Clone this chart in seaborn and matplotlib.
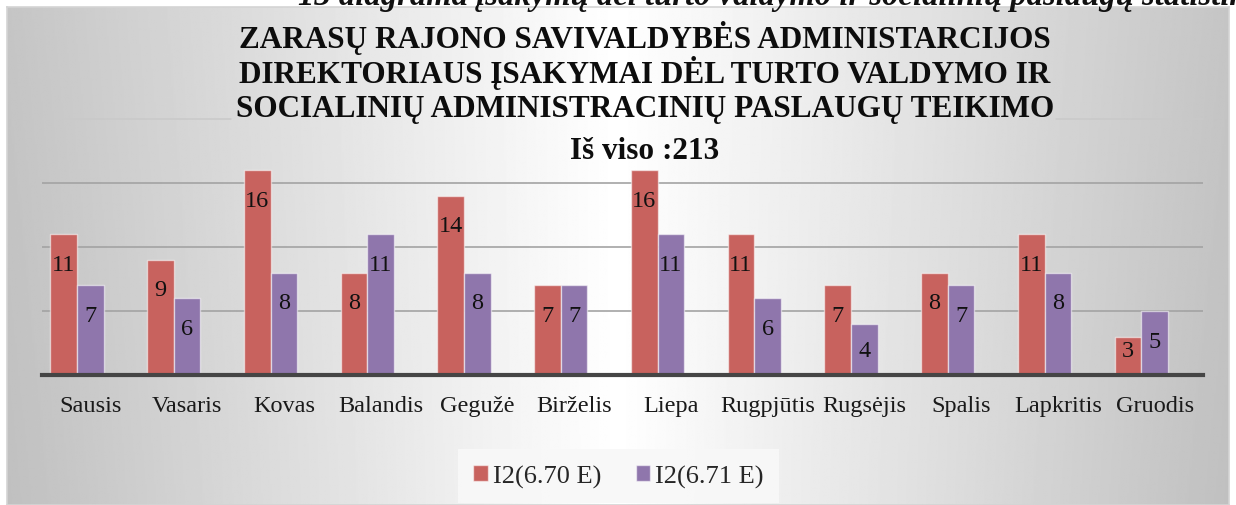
import numpy as np
import pandas as pd
import matplotlib
matplotlib.use("Agg")
import matplotlib.pyplot as plt
import seaborn as sns
from matplotlib.patches import Patch

# ---------------- data ----------------
months = ["Sausis", "Vasaris", "Kovas", "Balandis", "Gegužė", "Birželis",
          "Liepa", "Rugpjūtis", "Rugsėjis", "Spalis", "Lapkritis", "Gruodis"]
series_names = ["I2(6.70 E)", "I2(6.71 E)"]
values_e670 = [11, 9, 16, 8, 14, 7, 16, 11, 7, 8, 11, 3]
values_e671 = [7, 6, 8, 11, 8, 7, 11, 6, 4, 7, 8, 5]
title_lines = ["ZARASŲ RAJONO SAVIVALDYBĖS ADMINISTARCIJOS",
               "DIREKTORIAUS ĮSAKYMAI DĖL TURTO VALDYMO IR",
               "SOCIALINIŲ ADMINISTRACINIŲ PASLAUGŲ TEIKIMO"]
total_label = "Iš viso :213"
caption = "13 diagrama įsakymų dėl turto valdymo ir socialinių paslaugų statistika"

RED = "#c8625e"
PURPLE = "#8f76ac"
SERIF = "Liberation Serif"

W, H = 1236, 506
sns.set_theme(style="white")
plt.rcParams["font.family"] = [SERIF, "DejaVu Serif"]

fig = plt.figure(figsize=(W / 100, H / 100), dpi=100)
fig.patch.set_facecolor("white")

# ---------------- background panel with gradient ----------------
bg = fig.add_axes([7 / W, 0, (1229 - 7) / W, (H - 8) / H], zorder=-5)
xs = np.linspace(0, 1, 800)
g = 1 - (58 / 255) * np.abs(xs - 0.5) * 2
ys = np.linspace(0, 1, 60)[:, None]
img = g[None, :] - 0.02 * (ys) * (np.abs(xs - 0.5) * 2)[None, :]
bg.imshow(img, cmap="gray", vmin=0, vmax=1, aspect="auto", extent=[0, 1, 0, 1])
bg.set_xticks([])
bg.set_yticks([])
for s in bg.spines.values():
    s.set_color("#d4d4d4")
    s.set_linewidth(1.2)

# ---------------- main axes ----------------
ax = fig.add_axes([42 / W, (H - 376) / H, (1203 - 42) / W, 256 / H])
ax.patch.set_alpha(0)

df = pd.DataFrame({
    "month": months * 3,
    "series": [series_names[0]] * 12 + [series_names[1]] * 12 + ["_blank"] * 12,
    "value": values_e670 + values_e671 + [0] * 12,
})
sns.barplot(data=df, x="month", y="value", hue="series",
            hue_order=series_names + ["_blank"],
            palette=[RED, PURPLE, "#ffffff"], saturation=1,
            width=0.827, dodge=True, errorbar=None, legend=False, ax=ax,
            edgecolor=(1, 1, 1, 0.55), linewidth=1.0)
for bar in ax.containers[2]:
    bar.set_visible(False)

ax.set_ylim(0, 20)
ax.set_xlim(-0.5, 11.5)
ax.set_yticks([5, 10, 15])
ax.set_yticklabels([])
ax.yaxis.grid(True, color="#a3a3a3", linewidth=1.2)
ax.set_axisbelow(True)
ax.set_xlabel("")
ax.set_ylabel("")
for side in ["left", "right", "top"]:
    ax.spines[side].set_visible(False)
ax.spines["bottom"].set_color("#454545")
ax.spines["bottom"].set_linewidth(3)
ax.spines["bottom"].set_zorder(5)
ax.tick_params(axis="x", length=0, pad=14.5, labelsize=17.5, labelcolor="#1a1a1a")
ax.tick_params(axis="y", length=0)

# value labels
for cont, vals in zip(ax.containers[:2], [values_e670, values_e671]):
    for bar, v in zip(cont, vals):
        ax.text(bar.get_x() + bar.get_width() / 2, max(v - 2.35, 1.95), str(v),
                ha="center", va="center", fontsize=17.5, color="#111111", zorder=6)

# ---------------- titles ----------------
tx = 645 / W
title_objs = []
for line, yb in zip(title_lines, [48, 82.5, 117]):
    title_objs.append(fig.text(tx, 1 - yb / H, line, ha="center", va="baseline",
                               fontsize=22.5, fontweight="bold", color="#0d0d0d"))
fig.text(tx, 1 - 159 / H, total_label, ha="center", va="baseline",
         fontsize=22.5, fontweight="bold", color="#0d0d0d")

fig.text(298 / W, 1 - 5 / H, caption, ha="left", va="baseline",
         fontsize=23.5, fontweight="bold", fontstyle="italic", color="#111111")

# ---------------- legend ----------------
handles = [Patch(facecolor=RED, edgecolor=(1, 1, 1, 0.55)),
           Patch(facecolor=PURPLE, edgecolor=(1, 1, 1, 0.55))]
leg = fig.legend(handles, series_names, loc="center",
                 bbox_to_anchor=(618.5 / W, 1 - 477 / H), ncol=2, fontsize=19,
                 frameon=True, facecolor="#f8f8f8", edgecolor="none",
                 fancybox=False, framealpha=0.9, handlelength=0.55,
                 handleheight=0.55, handletextpad=0.2, columnspacing=1.3,
                 borderpad=0.45, borderaxespad=0)
leg.get_frame().set_boxstyle("square", pad=0.12)

# ---------------- top gridline interrupted by the title ----------------
fig.canvas.draw()
r = fig.canvas.get_renderer()
tb = title_objs[2].get_window_extent(r)
ab = ax.get_window_extent(r)
x0 = (tb.x0 - 5 - ab.x0) / ab.width
x1 = (tb.x1 + 2 - ab.x0) / ab.width
ax.axhline(20, xmin=0, xmax=x0, color="#c9c9c9", linewidth=1.1, clip_on=False)
ax.axhline(20, xmin=x1, xmax=1, color="#c9c9c9", linewidth=1.1, clip_on=False)

fig.savefig("out.png", dpi=100)
